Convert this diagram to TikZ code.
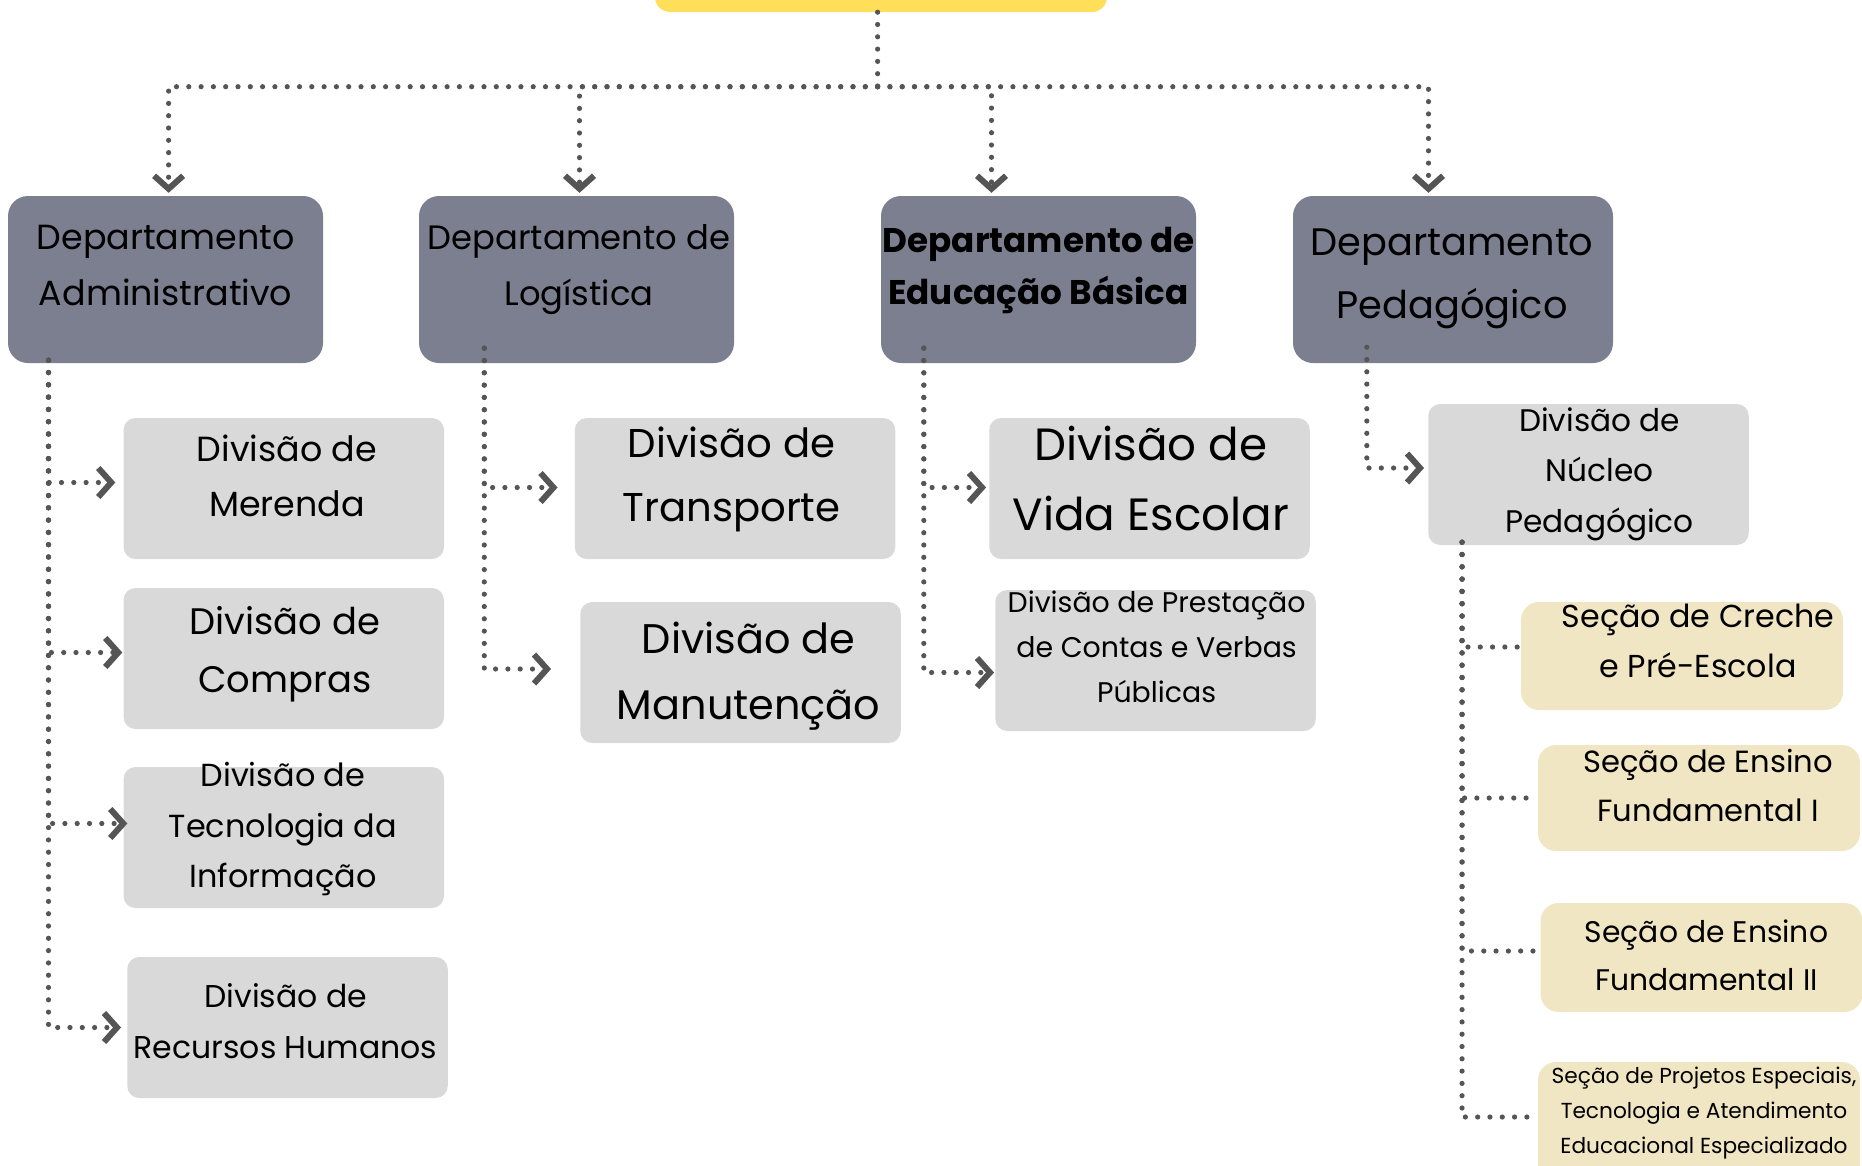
\documentclass[tikz,border=0pt]{standalone}
\usepackage{fontspec}
\setmainfont{Poppins}
\usetikzlibrary{arrows.meta}
\definecolor{deptgray}{RGB}{124,127,143}
\definecolor{divgray}{RGB}{217,217,217}
\definecolor{secbeige}{RGB}{241,230,196}
\definecolor{topyellow}{RGB}{255,222,89}
\definecolor{linegray}{RGB}{85,85,85}
\newcommand{\fsz}[2]{\fontsize{#1pt}{#2pt}\selectfont}
\begin{document}
\begin{tikzpicture}[x=1pt,y=-1pt,
  box/.style={rectangle, inner sep=0pt, draw=none},
  dept/.style={box, fill=deptgray, minimum width=315pt, minimum height=167pt, rounded corners=20pt},
  divbox/.style={box, fill=divgray, minimum width=320.5pt, minimum height=141pt, rounded corners=12pt},
  secbox/.style={box, fill=secbeige, minimum width=322pt, rounded corners=18pt},
  lbl/.style={align=center, inner sep=0pt, text=black},
  conn/.style={draw=linegray, line width=5.2pt, line cap=round, dash pattern=on 0pt off 12.3pt},
  arr/.style={-{Straight Barb[length=13pt,width=29pt,line width=6pt]}}
]
\useasboundingbox (0,0) rectangle (1862,1165);
\clip (0,0) rectangle (1862,1165);

% top box
\node[box, fill=topyellow, minimum width=452pt, minimum height=52pt, rounded corners=15pt] (top) at (881,-14) {};

% departments
\node[dept] (d1) at (165.5,279.5) {};
\node[dept] (d2) at (576.5,279.5) {};
\node[dept] (d3) at (1038.5,279.5) {};
\node[dept, minimum width=320pt] (d4) at (1453,279.5) {};

% divisions
\node[divbox] (m1) at (283.75,488.5) {};
\node[divbox] (m2) at (283.75,658.5) {};
\node[divbox] (m3) at (283.75,837.5) {};
\node[divbox] (m4) at (287.5,1027.5) {};
\node[divbox] (l1) at (735,488.5) {};
\node[divbox] (l2) at (740.5,672.5) {};
\node[divbox] (e1) at (1149.5,488.5) {};
\node[divbox] (e2) at (1155.5,660.5) {};
\node[divbox] (p1) at (1588.5,474.5) {};

% sections
\node[secbox, minimum height=108pt] (s1) at (1682,656) {};
\node[secbox, minimum height=106pt] (s2) at (1699,798) {};
\node[secbox, minimum height=109pt] (s3) at (1701.5,957.5) {};
\node[secbox, minimum height=130pt] (s4) at (1699,1127) {};

% labels
\node[lbl, font=\fsz{34.9}{56}] (d1t) at (165.6,265) {Departamento\\Administrativo};
\node[lbl, font=\fsz{33.8}{56}] (d2t) at (579,270) {Departamento de\\Logística};
\node[lbl, font=\fsz{34.2}{52}\bfseries] (d3t) at (1038.5,270) {Departamento de\\Educação Básica};
\node[lbl, font=\fsz{38.3}{63}] (d4t) at (1452,278.5) {Departamento\\Pedagógico};

\node[lbl, font=\fsz{34.9}{55}] (m1t) at (287,476) {Divisão de\\Merenda};
\node[lbl, font=\fsz{36.9}{58}] (m2t) at (285,654) {Divisão de\\Compras};
\node[lbl, font=\fsz{31.9}{50.5}] (m3t) at (283,829) {Divisão de\\Tecnologia da\\Informação};
\node[lbl, font=\fsz{31.5}{51}] (m4t) at (285.6,1021) {Divisão de\\Recursos Humanos};
\node[lbl, font=\fsz{40.2}{64}] (l1t) at (731.5,479) {Divisão de\\Transporte};
\node[lbl, font=\fsz{41.4}{66}] (l2t) at (748.7,676) {Divisão de\\Manutenção};
\node[lbl, font=\fsz{45.2}{70}] (e1t) at (1150.7,478) {Divisão de\\Vida Escolar};
\node[lbl, font=\fsz{28.4}{45}] (e2t) at (1156.6,647) {Divisão de Prestação\\de Contas e Verbas\\Públicas};
\node[lbl, font=\fsz{31.2}{50.5}] (p1t) at (1599.6,474) {Divisão de\\Núcleo\\Pedagógico};

\node[lbl, font=\fsz{31.7}{50}] (s1t) at (1698,641) {Seção de Creche\\e Pré-Escola};
\node[lbl, font=\fsz{30.6}{48.5}] (s2t) at (1708,785.5) {Seção de Ensino\\Fundamental I};
\node[lbl, font=\fsz{29.8}{48.5}] (s3t) at (1706.5,955.5) {Seção de Ensino\\Fundamental II};
\node[lbl, font=\fsz{21.7}{35}] (s4t) at (1704,1113) {Seção de Projetos Especiais,\\Tecnologia e Atendimento\\Educacional Especializado};

% top connectors
\coordinate (j) at (877.6,86.7);
\draw[conn] ([xshift=-3.4pt]top.south) -- (j);
\draw[conn,arr,shorten >=3pt] (j) -| ([xshift=3.1pt]d1.north);
\draw[conn,arr,shorten >=3pt] (j) -| ([xshift=3pt]d2.north);
\draw[conn,arr,shorten >=3pt] (j) -| ([xshift=-47pt]d3.north);
\draw[conn,arr,shorten >=3pt] (j) -| ([xshift=-24.5pt]d4.north);

% administrativo
\draw[conn,arr,shorten >=8pt] ([xshift=40.7pt,yshift=3pt]d1.south west) |- ([yshift=6pt]m1.west);
\draw[conn,arr,shorten >=1pt] ([xshift=40.7pt,yshift=3pt]d1.south west) |- ([yshift=6pt]m2.west);
\draw[conn,arr,shorten >=-4pt] ([xshift=40.7pt,yshift=3pt]d1.south west) |- ([yshift=14pt]m3.west);
\draw[conn,arr,shorten >=6pt] ([xshift=40.7pt,yshift=3pt]d1.south west) |- (m4.west);

% logistica
\draw[conn,arr,shorten >=17pt] ([xshift=65.5pt,yshift=15pt]d2.south west) |- ([yshift=1pt]l1.west);
\draw[conn,arr,shorten >=29pt] ([xshift=65.5pt,yshift=15pt]d2.south west) |- ([yshift=3.5pt]l2.west);

% educacao basica
\draw[conn,arr,shorten >=3pt] ([xshift=43pt,yshift=15pt]d3.south west) |- ([yshift=1pt]e1.west);
\draw[conn,arr,shorten >=1pt] ([xshift=43pt,yshift=15pt]d3.south west) |- ([yshift=-12pt]e2.west);

% pedagogico
\draw[conn,arr,shorten >=4pt] ([xshift=74pt,yshift=16pt]d4.south west) |- ([yshift=6.5pt]p1.west);

% nucleo
\draw[conn] ([xshift=34pt,yshift=3pt]p1.south west) |- ([yshift=9pt]s1.west);
\draw[conn] ([xshift=34pt,yshift=3pt]p1.south west) |- (s2.west);
\draw[conn] ([xshift=34pt,yshift=3pt]p1.south west) |- ([yshift=6.5pt]s3.west);
\draw[conn] ([xshift=34pt,yshift=3pt]p1.south west) |- ([yshift=10pt]s4.west);
\end{tikzpicture}
\end{document}
